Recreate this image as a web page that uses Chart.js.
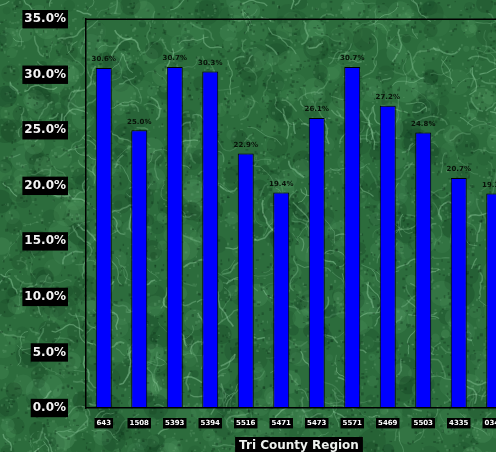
<!DOCTYPE html>
<html>
<head>
<meta charset="utf-8">
<script src="https://cdn.jsdelivr.net/npm/chart.js@4/dist/chart.umd.min.js"></script>
<style>
  html, body { margin: 0; padding: 0; overflow: hidden; background: #2c6b3c; }
  #wrap { position: relative; width: 520px; height: 460px; }
</style>
</head>
<body>
<div id="wrap"><canvas id="c" width="520" height="460"></canvas></div>
<script>
// Share by region (percent)
const regions = ['643', '1508', '5393', '5394', '5516', '5471', '5473', '5571', '5469', '5503', '4335', '0346'];
const shares = [30.6, 25.0, 30.7, 30.3, 22.9, 19.4, 26.1, 30.7, 27.2, 24.8, 20.7, 19.3];
const yTickValues = [0, 5, 10, 15, 20, 25, 30, 35];
const axisTitle = 'Tri County Region';

// Deterministic generator for the marble texture
function lcg(seed) {
  let s = seed >>> 0;
  return () => { s = (Math.imul(s, 1664525) + 1013904223) >>> 0; return s / 4294967296; };
}

let marbleCache = null;
function buildMarble(w, h) {
  const off = document.createElement('canvas');
  off.width = w; off.height = h;
  const g = off.getContext('2d');
  const rnd = lcg(20240611);
  g.fillStyle = '#2c6c3c';
  g.fillRect(0, 0, w, h);
  // small mottled patches
  for (let i = 0; i < 900; i++) {
    const x = rnd() * w, y = rnd() * h, r = 3 + rnd() * 10;
    const light = rnd() > 0.45;
    g.fillStyle = light ? `rgba(84,155,100,${0.12 + rnd() * 0.18})` : `rgba(18,62,32,${0.12 + rnd() * 0.2})`;
    g.beginPath(); g.arc(x, y, r, 0, Math.PI * 2); g.fill();
  }
  // crackle veins
  for (let i = 0; i < 600; i++) {
    let x = rnd() * w, y = rnd() * h;
    let a = rnd() * Math.PI * 2;
    g.strokeStyle = `rgba(155,215,170,${0.15 + rnd() * 0.3})`;
    g.lineWidth = 0.6 + rnd() * 1.1;
    g.beginPath(); g.moveTo(x, y);
    const steps = 3 + Math.floor(rnd() * 8);
    for (let k = 0; k < steps; k++) {
      a += (rnd() - 0.5) * 1.4;
      x += Math.cos(a) * 4; y += Math.sin(a) * 4;
      g.lineTo(x, y);
    }
    g.stroke();
  }
  // fine grain
  for (let i = 0; i < 5000; i++) {
    g.fillStyle = rnd() > 0.5 ? 'rgba(12,45,22,0.35)' : 'rgba(120,180,130,0.25)';
    g.fillRect(rnd() * w, rnd() * h, 1 + rnd() * 2, 1 + rnd() * 2);
  }
  return off;
}

const marblePlugin = {
  id: 'marble',
  beforeDraw(chart) {
    const { ctx, width, height } = chart;
    if (!marbleCache) marbleCache = buildMarble(width, height);
    ctx.drawImage(marbleCache, 0, 0);
  }
};

const framePlugin = {
  id: 'frame',
  afterDatasetsDraw(chart) {
    const { ctx } = chart;
    const meta = chart.getDatasetMeta(0);
    ctx.save();
    ctx.font = 'bold 7px "DejaVu Sans"';
    ctx.textAlign = 'center';
    ctx.textBaseline = 'bottom';
    ctx.fillStyle = '#081209';
    meta.data.forEach((bar, i) => {
      ctx.fillText(shares[i].toFixed(1) + '%', bar.x, bar.y - 5);
    });
    ctx.restore();
  },
  afterDraw(chart) {
    const { ctx, chartArea } = chart;
    ctx.save();
    // top border of the plot
    ctx.strokeStyle = '#000';
    ctx.lineWidth = 1.5;
    ctx.beginPath();
    ctx.moveTo(chartArea.left, chartArea.top);
    ctx.lineTo(chartArea.right + 10, chartArea.top);
    ctx.stroke();
    // axis title with black backdrop
    ctx.font = 'bold 12px "DejaVu Sans"';
    const tw = ctx.measureText(axisTitle).width;
    const cx = (chartArea.left + chartArea.right) / 2;
    const cy = chartArea.bottom + 37;
    ctx.fillStyle = '#000';
    ctx.fillRect(cx - tw / 2 - 4, cy - 8, tw + 8, 17);
    ctx.fillStyle = '#eef2ee';
    ctx.textAlign = 'center';
    ctx.textBaseline = 'middle';
    ctx.fillText(axisTitle, cx, cy + 1);
    ctx.restore();
  }
};

new Chart(document.getElementById('c'), {
  type: 'bar',
  data: {
    labels: regions,
    datasets: [{
      data: shares,
      backgroundColor: '#0000ff',
      borderColor: '#000000',
      borderWidth: 1,
      borderSkipped: false,
      categoryPercentage: 1,
      barPercentage: 0.45
    }]
  },
  options: {
    responsive: false,
    animation: false,
    layout: { padding: { top: 12, right: 8, left: 0, bottom: 0 } },
    plugins: { legend: { display: false }, tooltip: { enabled: false } },
    scales: {
      x: {
        grid: { display: false },
        border: { display: true, color: '#000', width: 1.5 },
        ticks: {
          color: '#ffffff',
          font: { family: 'DejaVu Sans', size: 7, weight: 'bold' },
          padding: 3,
          maxRotation: 0,
          showLabelBackdrop: true,
          backdropColor: '#000',
          backdropPadding: { x: 2, y: 1 },
        },
        afterFit(scale) { scale.height = 52; }
      },
      y: {
        min: 0,
        max: 35,
        afterBuildTicks(scale) { scale.ticks = yTickValues.map(v => ({ value: v })); },
        grid: { display: false },
        border: { display: true, color: '#000', width: 1.5 },
        ticks: {
          color: '#f4f4f4',
          font: { family: 'DejaVu Sans', size: 12, weight: 'bold' },
          padding: 12,
          showLabelBackdrop: true,
          backdropColor: '#000',
          backdropPadding: { x: 2, y: 2 },
          callback: v => Number(v).toFixed(1) + '%'
        },
        afterFit(scale) { scale.width = 86; }
      }
    }
  },
  plugins: [marblePlugin, framePlugin]
});
</script>
</body>
</html>
